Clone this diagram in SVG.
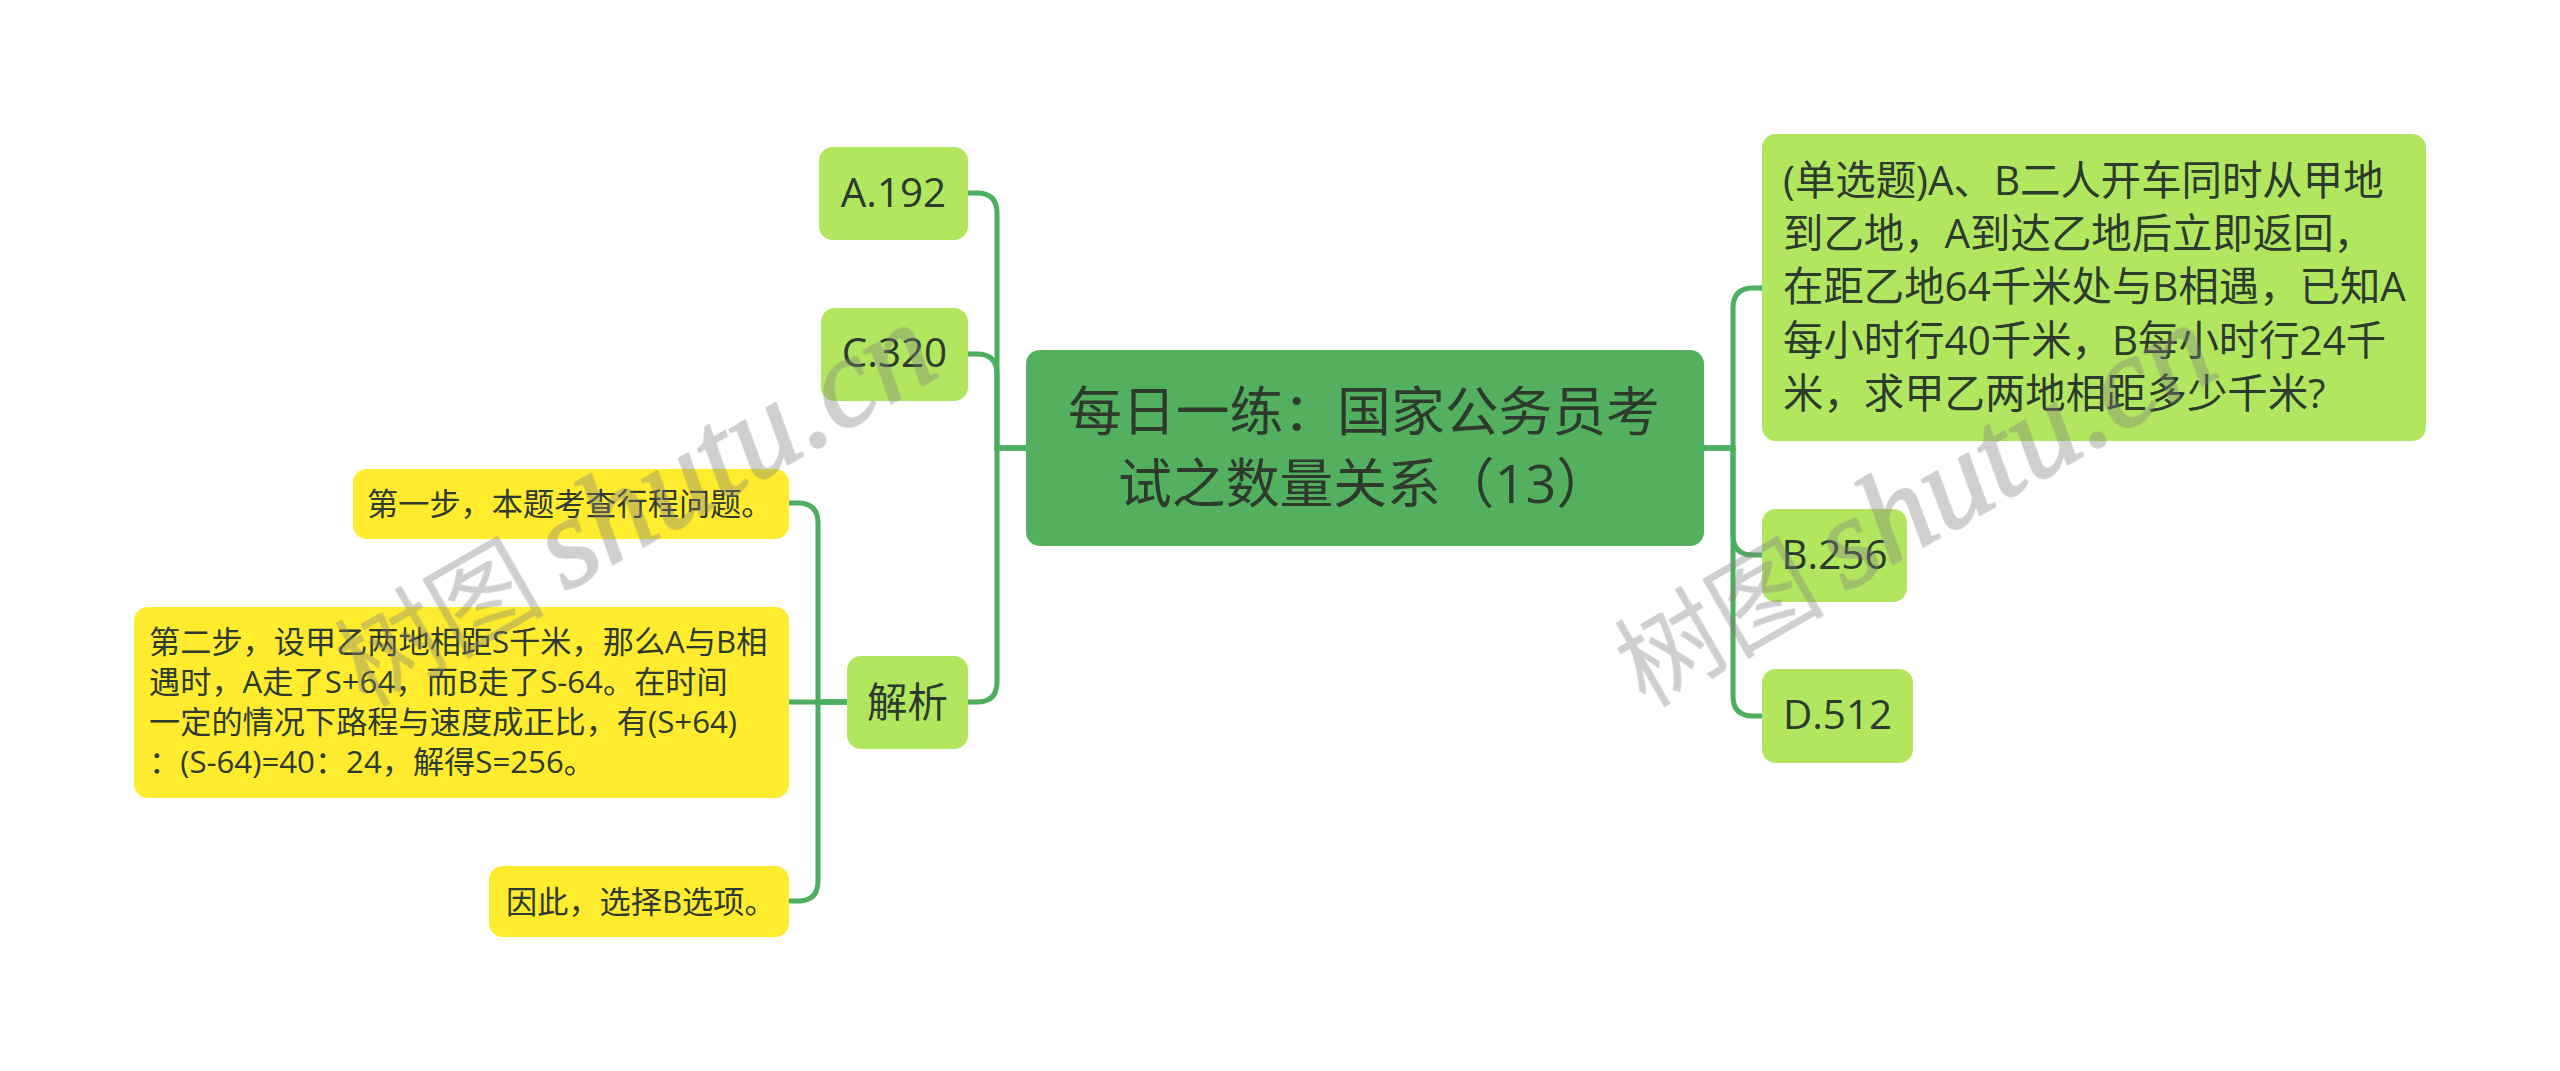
<svg xmlns="http://www.w3.org/2000/svg" width="2560" height="1071" viewBox="0 0 2560 1071">
<style>
text{font-family:"Open Sans","Noto Sans CJK SC",sans-serif;fill:#2d3a2d}
.root{fill:#52b05e}.sub{fill:#b3e65f}.leaf{fill:#ffec2e}
.t53{font-size:53.8px;text-anchor:middle}.t40{font-size:40.4px}.c{text-anchor:middle}.t30{font-size:31.2px}
#connectors path{fill:none;stroke:#4caf60;stroke-width:5}
#watermarks{opacity:.38}
text.wm{font-family:"Liberation Serif","Noto Sans CJK SC",serif;font-size:130px;font-style:italic;fill:#808080;stroke:#808080;stroke-width:2}
.wm tspan.cjk{font-size:105px;font-style:normal;stroke-width:0}
</style>
<rect width="2560" height="1071" fill="#fff"/>
<g id="connectors">
<path d="M1026 448H997V213Q997 193 977 193H968"/>
<path d="M1026 448H997V374Q997 354 977 354H968"/>
<path d="M1026 448H997V682Q997 702 977 702H968"/>
<path d="M1704 448H1733V308Q1733 288 1753 288H1762"/>
<path d="M1704 448H1733V535Q1733 555 1753 555H1762"/>
<path d="M1704 448H1733V696Q1733 716 1753 716H1762"/>
<path d="M847 702H818V523Q818 503 798 503H789"/>
<path d="M847 702H789"/>
<path d="M847 702H818V881Q818 901 798 901H789"/>
</g>
<g id="root"><rect class="root" x="1026" y="350" width="678" height="196" rx="14"/>
<text class="t53" x="1364" y="431">每日一练：国家公务员考</text><text class="t53" x="1364" y="503">试之数量关系（13）</text></g>
<g id="question"><rect class="sub" x="1762" y="134" width="664" height="307" rx="14"/>
<text class="t40" x="1783" y="195">(单选题)A、B二人开车同时从甲地</text>
<text class="t40" x="1783" y="248">到乙地，A到达乙地后立即返回，</text>
<text class="t40" x="1783" y="301">在距乙地64千米处与B相遇，已知A</text>
<text class="t40" x="1783" y="355">每小时行40千米，B每小时行24千</text>
<text class="t40" x="1783" y="408">米，求甲乙两地相距多少千米?</text></g>
<g id="optB"><rect class="sub" x="1762" y="509" width="145" height="93" rx="14"/><text class="t40 c" x="1834.5" y="569">B.256</text></g>
<g id="optD"><rect class="sub" x="1762" y="669" width="151" height="94" rx="14"/><text class="t40 c" x="1837.5" y="729">D.512</text></g>
<g id="optA"><rect class="sub" x="819" y="147" width="149" height="93" rx="14"/><text class="t40 c" x="893.5" y="207">A.192</text></g>
<g id="optC"><rect class="sub" x="821" y="308" width="147" height="93" rx="14"/><text class="t40 c" x="894.5" y="367">C.320</text></g>
<g id="analysis"><rect class="sub" x="847" y="656" width="121" height="93" rx="14"/><text class="t40 c" x="907.5" y="717">解析</text></g>
<g id="step1"><rect class="leaf" x="353" y="469" width="436" height="70" rx="14"/><text class="t30" x="367" y="515">第一步，本题考查行程问题。</text></g>
<g id="step2"><rect class="leaf" x="134" y="607" width="655" height="191" rx="14"/>
<text class="t30" x="149" y="653">第二步，设甲乙两地相距S千米，那么A与B相</text>
<text class="t30" x="149" y="693">遇时，A走了S+64，而B走了S-64。在时间</text>
<text class="t30" x="149" y="733">一定的情况下路程与速度成正比，有(S+64)</text>
<text class="t30" x="149" y="773">：(S-64)=40：24，解得S=256。</text></g>
<g id="step3"><rect class="leaf" x="489" y="866" width="300" height="71" rx="14"/><text class="t30" x="506" y="913">因此，选择B选项。</text></g>
<g id="watermarks">
<text class="wm" transform="translate(365 708) rotate(-30)"><tspan class="cjk">树图 </tspan><tspan dx="-5">shutu.cn</tspan></text>
<text class="wm" transform="translate(1645 708) rotate(-30)"><tspan class="cjk">树图 </tspan><tspan dx="-5">shutu.cn</tspan></text>
</g>
</svg>
